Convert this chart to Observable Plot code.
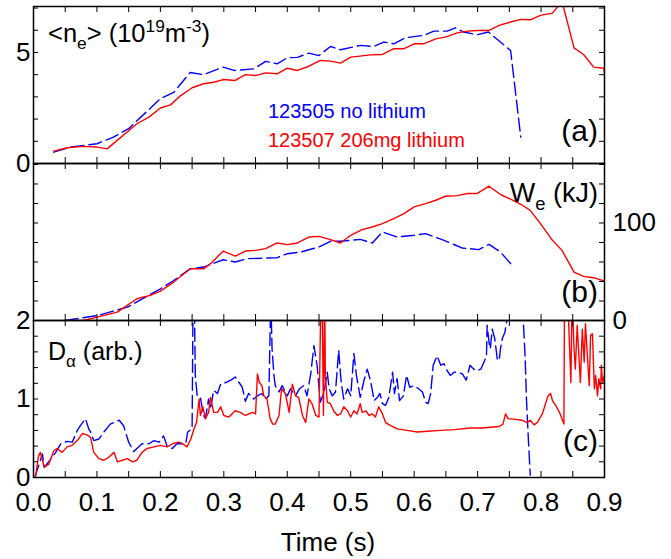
<!DOCTYPE html>
<html><head><meta charset="utf-8">
<script src="https://cdn.jsdelivr.net/npm/d3@7"></script>
<script src="https://cdn.jsdelivr.net/npm/@observablehq/plot@0.6"></script>
<style>
body{margin:0;background:#fff;}
#chart{position:relative;width:671px;height:559px;}
#chart svg{position:absolute;left:0;top:0;}
</style></head><body><div id="chart"></div>
<script>
// ---------- data ----------
const xTickLabels = [0,0.1,0.2,0.3,0.4,0.5,0.6,0.7,0.8,0.9];
const seriesNames = ["123505 no lithium","123507 206mg lithium"];

// (a) line-averaged density <ne> (1e19 m^-3)
const neBlue = [[0.032,0.51],[0.06,0.75],[0.08,0.82],[0.10,0.89],[0.126,1.19],[0.15,1.57],[0.20,2.92],[0.221,3.2],[0.247,4.1],[0.268,4.0],[0.299,4.34],[0.316,4.19],[0.347,4.26],[0.366,4.6],[0.384,4.49],[0.40,4.76],[0.416,4.78],[0.434,4.97],[0.45,4.86],[0.468,5.27],[0.484,5.12],[0.515,5.32],[0.536,5.27],[0.552,5.47],[0.568,5.39],[0.586,5.66],[0.615,5.77],[0.631,5.96],[0.652,5.96],[0.665,6.11],[0.678,5.92],[0.699,5.8],[0.717,5.92],[0.752,5.09],[0.768,1.19]];
const neRed = [[0.032,0.56],[0.053,0.71],[0.079,0.77],[0.10,0.74],[0.116,0.66],[0.163,1.79],[0.182,2.09],[0.20,2.5],[0.216,2.64],[0.232,3.06],[0.25,3.41],[0.268,3.59],[0.284,3.66],[0.299,3.78],[0.318,3.74],[0.334,4.0],[0.35,3.96],[0.366,4.08],[0.384,4.04],[0.40,4.29],[0.416,4.19],[0.434,4.38],[0.452,4.64],[0.468,4.61],[0.484,4.52],[0.50,4.79],[0.531,4.89],[0.55,4.91],[0.568,5.17],[0.584,5.17],[0.60,5.39],[0.615,5.39],[0.634,5.61],[0.649,5.69],[0.668,5.88],[0.684,5.96],[0.699,5.99],[0.718,5.99],[0.734,6.22],[0.752,6.37],[0.768,6.49],[0.783,6.47],[0.799,6.67],[0.818,6.77],[0.833,7.3],[0.852,5.21],[0.867,4.91],[0.883,4.34],[0.899,4.29],[0.9,4.05]];

// (b) electron stored energy We (kJ)
const weBlue = [[0.05,0],[0.10,5],[0.148,13.7],[0.20,32.5],[0.221,41],[0.247,53],[0.268,54.8],[0.299,62.3],[0.318,60],[0.337,63.4],[0.384,64.4],[0.40,68.5],[0.421,70.2],[0.45,75.4],[0.468,81.2],[0.484,81.2],[0.515,83.2],[0.534,79.5],[0.55,90.8],[0.573,85.6],[0.60,87.4],[0.618,89.1],[0.647,82.2],[0.676,74.3],[0.702,72.7],[0.718,78.1],[0.736,70.2],[0.752,58.3]];
const weRed = [[0.05,0],[0.079,0],[0.10,3.4],[0.132,8.6],[0.163,22.3],[0.184,25.7],[0.20,30.2],[0.221,39.4],[0.247,53],[0.268,53],[0.279,58.3],[0.299,71.2],[0.318,66.1],[0.334,71.2],[0.35,71.9],[0.366,73.7],[0.384,79.5],[0.40,77.8],[0.416,79.5],[0.434,85.6],[0.45,86.3],[0.468,82.9],[0.484,79.5],[0.50,87.4],[0.518,93.2],[0.534,95.9],[0.55,99.4],[0.568,104.5],[0.584,109.6],[0.60,116.5],[0.618,119.9],[0.634,123.3],[0.649,127.4],[0.668,128.1],[0.684,130.2],[0.699,130.2],[0.718,137.7],[0.736,129.2],[0.752,124.4],[0.768,119.2],[0.783,113],[0.799,99.4],[0.818,82.2],[0.833,71.9],[0.852,49.6],[0.867,45.2],[0.883,43.9],[0.9,40.4]];

// (c) D-alpha emission (arb.)
const daBlue = [[0.002,0],[0.008,0.15],[0.014,0.30],[0.017,0.13],[0.024,0.2],[0.035,0.32],[0.043,0.43],[0.053,0.46],[0.061,0.45],[0.069,0.60],[0.074,0.66],[0.082,0.75],[0.087,0.62],[0.09,0.58],[0.095,0.47],[0.103,0.49],[0.111,0.58],[0.121,0.68],[0.135,0.73],[0.142,0.66],[0.150,0.45],[0.158,0.33],[0.163,0.37],[0.171,0.43],[0.182,0.43],[0.19,0.47],[0.198,0.45],[0.205,0.53],[0.211,0.39],[0.219,0.37],[0.226,0.43],[0.240,0.43],[0.243,0.58],[0.250,0.62],[0.2515,2.3],[0.2535,2.3],[0.255,1.30],[0.258,1.04],[0.263,1.02],[0.268,0.79],[0.271,0.75],[0.276,1.0],[0.279,0.87],[0.284,1.11],[0.290,1.07],[0.295,1.19],[0.303,1.21],[0.311,1.24],[0.318,1.28],[0.324,1.21],[0.329,1.15],[0.334,0.97],[0.339,1.07],[0.347,1.0],[0.353,1.04],[0.360,1.07],[0.366,1.0],[0.371,1.04],[0.374,2.3],[0.376,1.64],[0.379,1.30],[0.381,1.17],[0.387,1.09],[0.392,1.17],[0.400,1.04],[0.405,1.13],[0.413,1.04],[0.419,1.13],[0.426,1.17],[0.431,1.04],[0.437,1.32],[0.442,1.68],[0.447,1.43],[0.452,0.96],[0.458,1.09],[0.463,1.34],[0.466,1.13],[0.471,1.04],[0.476,1.09],[0.481,1.62],[0.485,1.21],[0.489,1.0],[0.495,1.13],[0.500,1.04],[0.505,1.58],[0.509,1.30],[0.515,1.02],[0.521,1.24],[0.526,1.38],[0.531,1.24],[0.537,0.98],[0.542,1.02],[0.546,1.07],[0.550,0.94],[0.555,0.92],[0.560,1.02],[0.566,1.34],[0.569,1.07],[0.573,1.26],[0.577,0.98],[0.583,1.04],[0.588,1.30],[0.593,1.15],[0.600,1.17],[0.607,1.13],[0.613,1.09],[0.618,0.96],[0.622,0.94],[0.626,1.07],[0.630,1.43],[0.636,1.55],[0.642,1.43],[0.647,1.45],[0.652,1.36],[0.657,1.30],[0.663,1.34],[0.670,1.34],[0.676,1.32],[0.682,1.24],[0.688,1.43],[0.694,1.38],[0.699,1.36],[0.705,1.38],[0.710,1.47],[0.714,1.55],[0.715,1.94],[0.718,1.72],[0.720,1.64],[0.723,1.89],[0.727,1.77],[0.731,1.51],[0.734,1.49],[0.736,1.64],[0.739,1.77],[0.743,1.85],[0.747,2.05],[0.758,2.4],[0.770,2.05],[0.772,2.0],[0.775,1.51],[0.777,1.0],[0.780,0.49],[0.783,0.03]];
const daRed = [[0.003,0],[0.008,0.28],[0.011,0.32],[0.014,0.22],[0.017,0.13],[0.024,0.17],[0.032,0.34],[0.037,0.37],[0.045,0.32],[0.053,0.39],[0.061,0.41],[0.069,0.47],[0.077,0.56],[0.085,0.54],[0.090,0.51],[0.095,0.32],[0.103,0.24],[0.111,0.22],[0.119,0.26],[0.127,0.32],[0.132,0.20],[0.140,0.22],[0.148,0.24],[0.156,0.20],[0.163,0.22],[0.171,0.32],[0.179,0.37],[0.190,0.39],[0.200,0.41],[0.211,0.39],[0.219,0.43],[0.229,0.45],[0.235,0.43],[0.242,0.39],[0.248,0.49],[0.253,0.62],[0.257,0.70],[0.261,1.0],[0.263,0.79],[0.267,0.90],[0.271,0.75],[0.276,0.83],[0.279,1.02],[0.284,0.83],[0.290,0.83],[0.295,0.90],[0.300,0.79],[0.308,0.77],[0.318,0.85],[0.326,0.83],[0.334,0.79],[0.345,0.83],[0.350,0.81],[0.353,1.32],[0.356,1.21],[0.360,1.17],[0.363,1.04],[0.368,1.0],[0.373,0.75],[0.377,0.68],[0.381,0.68],[0.387,0.79],[0.391,1.13],[0.397,1.07],[0.403,0.83],[0.408,1.19],[0.413,1.04],[0.418,1.02],[0.424,0.79],[0.429,0.70],[0.434,1.0],[0.439,0.94],[0.445,0.79],[0.450,0.77],[0.453,2.3],[0.455,2.3],[0.457,0.79],[0.459,2.3],[0.460,1.30],[0.463,0.96],[0.468,0.94],[0.473,0.85],[0.479,0.79],[0.484,0.81],[0.489,0.90],[0.495,0.85],[0.500,0.77],[0.505,0.85],[0.510,0.81],[0.515,0.94],[0.518,0.83],[0.524,0.85],[0.529,0.79],[0.534,0.81],[0.539,0.77],[0.544,0.90],[0.550,0.81],[0.555,0.70],[0.563,0.66],[0.573,0.62],[0.589,0.60],[0.605,0.58],[0.621,0.59],[0.642,0.60],[0.663,0.61],[0.689,0.63],[0.707,0.63],[0.734,0.65],[0.740,0.68],[0.744,0.81],[0.748,0.75],[0.760,0.74],[0.770,0.73],[0.778,0.70],[0.783,0.73],[0.789,0.67],[0.794,0.70],[0.802,0.81],[0.807,0.94],[0.811,1.04],[0.815,1.07],[0.818,0.98],[0.823,0.92],[0.829,0.83],[0.836,0.68],[0.837,2.3],[0.842,2.3],[0.847,1.21],[0.849,2.3],[0.852,1.64],[0.854,1.38],[0.857,1.94],[0.859,1.64],[0.862,1.21],[0.865,1.89],[0.868,1.47],[0.870,1.96],[0.873,1.55],[0.876,1.17],[0.878,1.81],[0.881,1.83],[0.884,1.13],[0.886,1.30],[0.889,1.04],[0.891,1.26],[0.894,1.13],[0.895,1.43],[0.897,1.21],[0.9,1.30]];

// ---------- layout ----------
const W = 671, H = 559, ML = 33, MR = 67;
const FONT = "'Liberation Sans', Arial, Helvetica, sans-serif";
const BLUE = "#0000ff", RED = "#ff0000";
const xMinor = d3.range(0, 19).map(i => +(i * 0.05).toFixed(2));
const chart = document.getElementById("chart");
const intFmt = d => String(d);

function panel(cfg) {
  const fh = H - cfg.top - cfg.bottom;
  const fw = W - ML - MR;
  const marks = [
    ...cfg.series.map(s => Plot.line(s.data, {
      x: d => d[0], y: d => d[1], stroke: s.color, strokeWidth: 1.4,
      strokeDasharray: s.dash, clip: true
    })),
    Plot.tickX(xMinor, {x: d => d, insetTop: fh - 6, stroke: "black", strokeWidth: 1}),
    Plot.tickX(xMinor, {x: d => d, insetBottom: fh - 6, stroke: "black", strokeWidth: 1}),
    Plot.tickY(cfg.yMinor, {y: d => d, insetRight: fw - 5, stroke: "black", strokeWidth: 1}),
    Plot.tickY(cfg.yMinor, {y: d => d, insetLeft: fw - 5, stroke: "black", strokeWidth: 1}),
    Plot.frame({stroke: "black", strokeWidth: 1.5}),
    ...cfg.axes
  ];
  const svg = Plot.plot({
    width: W, height: H,
    marginLeft: ML, marginRight: MR, marginTop: cfg.top, marginBottom: cfg.bottom,
    x: {domain: [0, 0.9], axis: null},
    y: {domain: cfg.yDomain, axis: null},
    style: {background: "transparent", fontFamily: FONT, fontSize: "26px", color: "black", overflow: "visible"},
    marks
  });
  chart.appendChild(svg);
}

// (a)
panel({
  top: 6, bottom: H - 163, yDomain: [0, 7.07],
  yMinor: [0,1,2,3,4,5,6,7],
  series: [
    {data: neBlue, color: BLUE, dash: "13,5"},
    {data: neRed, color: RED, dash: null}
  ],
  axes: [Plot.axisY({anchor: "left", ticks: [0, 5], tickFormat: intFmt, tickSize: 0, tickPadding: 3, label: null})]
});
// (b)
panel({
  top: 163, bottom: H - 320, yDomain: [0, 161],
  yMinor: [0,20,40,60,80,100,120,140,160],
  series: [
    {data: weBlue, color: BLUE, dash: "13,5"},
    {data: weRed, color: RED, dash: null}
  ],
  axes: [Plot.axisY({anchor: "right", ticks: [0, 100], tickFormat: intFmt, tickSize: 0, tickPadding: 8, label: null})]
});
// (c)
panel({
  top: 320, bottom: H - 477, yDomain: [0, 2],
  yMinor: d3.range(0, 11).map(i => +(i * 0.2).toFixed(1)),
  series: [
    {data: daBlue, color: BLUE, dash: "13,5"},
    {data: daRed, color: RED, dash: null}
  ],
  axes: [
    Plot.axisY({anchor: "left", ticks: [0, 1, 2], tickFormat: intFmt, tickSize: 0, tickPadding: 3, label: null}),
    Plot.axisX({anchor: "bottom", ticks: xTickLabels, tickFormat: d3.format(".1f"), tickSize: 0, tickPadding: 15, label: null})
  ]
});

// ---------- annotations ----------
const ov = d3.select(chart).append("svg")
  .attr("width", W).attr("height", H)
  .style("font-family", FONT).style("overflow", "visible");

function label(x, y, size, anchor, parts, color = "black") {
  const t = ov.append("text").attr("x", x).attr("y", y).attr("font-size", size)
    .attr("text-anchor", anchor).attr("fill", color);
  let shift = 0;
  parts.forEach(p => {
    const s = p.sub ? size * 0.28 : p.sup ? -size * 0.38 : 0;
    const ts = t.append("tspan").attr("dy", s - shift).text(p.t);
    if (p.sub || p.sup) ts.attr("font-size", size * 0.68);
    shift = s;
  });
}
label(48, 42, 25.5, "start", [{t: "<n"}, {t: "e", sub: true}, {t: "> (10"}, {t: "19", sup: true}, {t: "m"}, {t: "-3", sup: true}, {t: ")"}]);
label(268, 118, 20, "start", [{t: seriesNames[0]}], BLUE);
label(268, 147, 20, "start", [{t: seriesNames[1]}], RED);
label(598, 141, 30, "end", [{t: "(a)"}]);
label(598, 202, 27, "end", [{t: "W"}, {t: "e", sub: true}, {t: " (kJ)"}]);
label(598, 302, 30, "end", [{t: "(b)"}]);
label(48, 360, 25, "start", [{t: "D"}, {t: "α", sub: true}, {t: " (arb.)"}]);
label(598, 451, 30, "end", [{t: "(c)"}]);
label(328, 551, 26, "middle", [{t: "Time (s)"}]);
</script></body></html>
